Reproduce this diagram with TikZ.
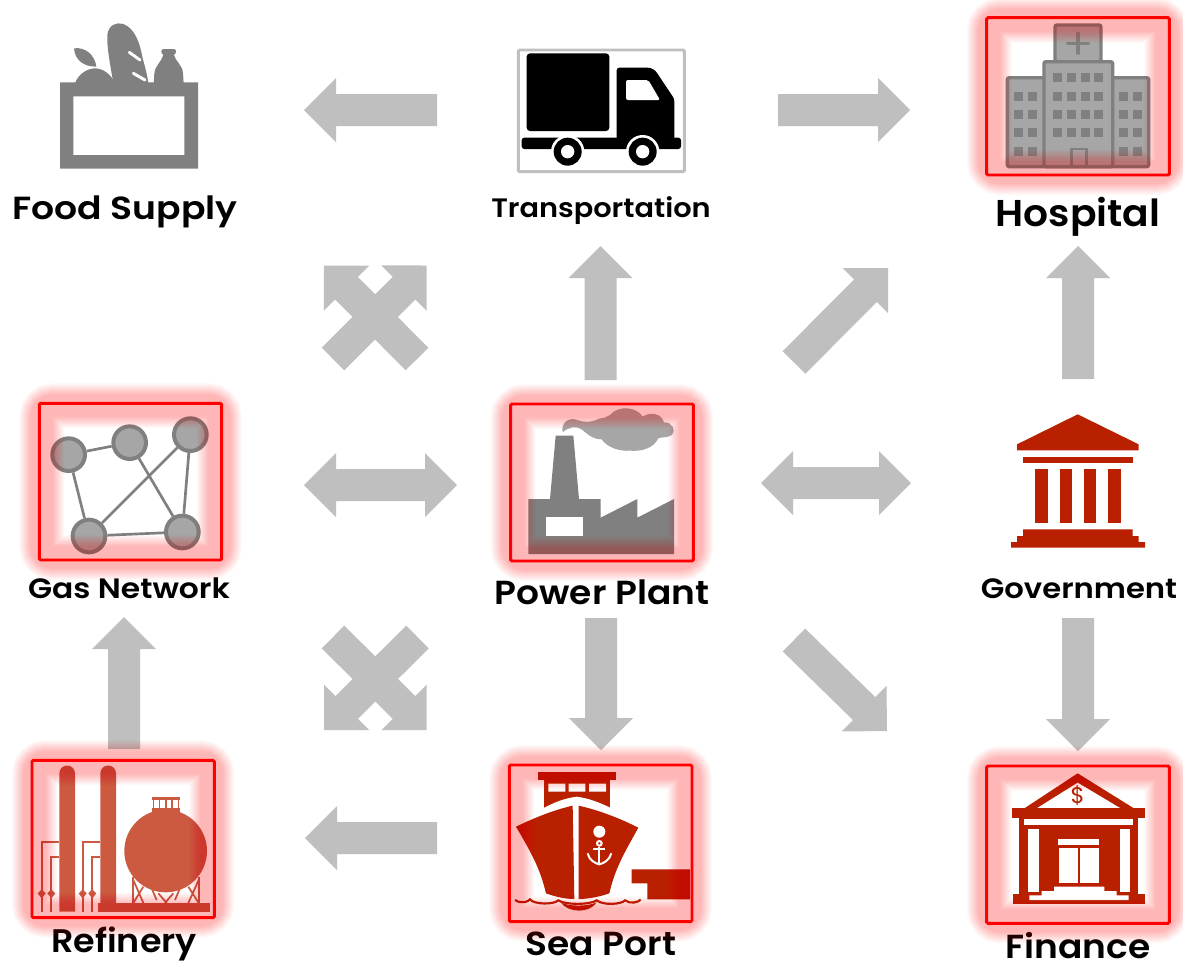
\documentclass[tikz,border=0pt]{standalone}
\usepackage{fontspec}
\setmainfont{Poppins}[BoldFont={Poppins SemiBold}]
\usetikzlibrary{calc}
\definecolor{arrowgray}{HTML}{BFBFBF}
\definecolor{icongray}{HTML}{808080}
\definecolor{lightgray2}{HTML}{A6A6A6}
\definecolor{brick}{HTML}{B82000}
\definecolor{refcol}{HTML}{CB5A40}
\tikzset{
  arrowbody/.style={fill=arrowgray,draw=none},
  zoomed/.style={x=.25pt,y=-.25pt},
  labeltext/.style={anchor=base,inner sep=0pt,font=\bfseries,text=black},
  redframe/.style={draw=red,line width=2.2pt,rounded corners=1pt},
  netnode/.style={circle,draw=icongray,fill=lightgray2,line width=3pt,minimum size=24.5pt,inner sep=0pt},
  netedge/.style={draw=icongray,line width=2pt},
}
\newcommand{\blockarrow}[2]{%
  \coordinate (hd) at ($(#2)!24pt!(#1)$);
  \fill[arrowbody] ($(#1)!12pt!90:(#2)$) -- ($(hd)!12pt!90:(#2)$) -- ($(hd)!24pt!90:(#2)$) -- (#2)
    -- ($(hd)!24pt!-90:(#2)$) -- ($(hd)!12pt!-90:(#2)$) -- ($(#1)!12pt!-90:(#2)$) -- cycle;}
\newcommand{\doublearrow}[2]{%
  \coordinate (hd) at ($(#2)!24pt!(#1)$);
  \coordinate (he) at ($(#1)!24pt!(#2)$);
  \fill[arrowbody] (#1) -- ($(he)!24pt!-90:(#2)$) -- ($(he)!12pt!-90:(#2)$) -- ($(hd)!12pt!90:(#1)$) -- ($(hd)!24pt!90:(#1)$) -- (#2)
    -- ($(hd)!24pt!-90:(#1)$) -- ($(hd)!12pt!-90:(#1)$) -- ($(he)!12pt!90:(#2)$) -- ($(he)!24pt!90:(#2)$) -- cycle;}
% glow: stack of translucent strokes slightly inside the frame, then the frame
\newcommand{\glowframe}[4]{%
  \foreach \w in {16,17,...,34}{
    \draw[red,opacity=.016,line width=\w pt,rounded corners=8pt] ({#1+2.5},{#2+2.5}) rectangle ({#3-2.5},{#4-2.5});
  }
  \draw[redframe] (#1,#2) rectangle (#3,#4);}
\newcommand{\lab}[2]{\scalebox{#1}[1]{#2}}
\begin{document}
\begin{tikzpicture}[x=.75pt,y=-.75pt]
\useasboundingbox (0,0) rectangle (1183,961);
\fill[white] (0,0) rectangle (1183,961);

% arrow end points
\coordinate (a1t) at (437,110); \coordinate (a1h) at (304,110);
\coordinate (a2t) at (778,110); \coordinate (a2h) at (910,110);
\coordinate (a3t) at (600.5,380); \coordinate (a3h) at (600.5,246);
\coordinate (a4t) at (794,362.5); \coordinate (a4h) at (888,268);
\coordinate (a5t) at (1078,379); \coordinate (a5h) at (1078,246);
\coordinate (d1a) at (304,485); \coordinate (d1b) at (457,485);
\coordinate (d2a) at (761,483); \coordinate (d2b) at (911,483);
\coordinate (a6t) at (601,618); \coordinate (a6h) at (601,750);
\coordinate (a7t) at (1078,618); \coordinate (a7h) at (1078,751);
\coordinate (a8t) at (794,640); \coordinate (a8h) at (887,731);
\coordinate (a9t) at (124,749); \coordinate (a9h) at (124,617);
\coordinate (a10t) at (437,838); \coordinate (a10h) at (305,838);
\coordinate (x1a) at (417,359); \coordinate (x1b) at (324,265.5);
\coordinate (x2a) at (333,359); \coordinate (x2b) at (426.7,265.5);
\coordinate (x3a) at (333,637); \coordinate (x3b) at (426.7,730);
\coordinate (x4a) at (417.5,637); \coordinate (x4b) at (324,730);
\blockarrow{a1t}{a1h}\blockarrow{a2t}{a2h}\blockarrow{a3t}{a3h}\blockarrow{a4t}{a4h}\blockarrow{a5t}{a5h}
\doublearrow{d1a}{d1b}\doublearrow{d2a}{d2b}
\blockarrow{a6t}{a6h}\blockarrow{a7t}{a7h}\blockarrow{a8t}{a8h}\blockarrow{a9t}{a9h}\blockarrow{a10t}{a10h}
\blockarrow{x1a}{x1b}\blockarrow{x2a}{x2b}\blockarrow{x3a}{x3b}\blockarrow{x4a}{x4b}

% labels
\node[labeltext,font=\bfseries\fontsize{24}{24}\selectfont] (lfood) at (125,219) {\lab{1.13}{Food Supply}};
\node[labeltext,font=\bfseries\fontsize{20}{20}\selectfont] (ltrans) at (601,217) {\lab{1.08}{Transportation}};
\node[labeltext,font=\bfseries\fontsize{28}{28}\selectfont] (lhosp) at (1078,226) {\lab{1.05}{Hospital}};
\node[labeltext,font=\bfseries\fontsize{21}{21}\selectfont] (lgas) at (129,598) {\lab{1.12}{Gas Network}};
\node[labeltext,font=\bfseries\fontsize{25}{25}\selectfont] (lpower) at (602,604) {\lab{1.08}{Power Plant}};
\node[labeltext,font=\bfseries\fontsize{21}{21}\selectfont] (lgov) at (1079,598) {\lab{1.095}{Government}};
\node[labeltext,font=\bfseries\fontsize{24.5}{24.5}\selectfont] (lref) at (124,952) {\lab{1.07}{Refinery}};
\node[labeltext,font=\bfseries\fontsize{25}{25}\selectfont] (lsea) at (601,955) {\lab{1.08}{Sea Port}};
\node[labeltext,font=\bfseries\fontsize{25}{25}\selectfont] (lfin) at (1078,958) {\lab{1.08}{Finance}};

% Food supply
\begin{scope}[zoomed]
\fill[icongray,even odd rule] (180,247) rectangle (594,506) (220,289) rectangle (553,465);
\fill[icongray] (225,250) .. controls (235,220) and (265,205) .. (285,205) .. controls (310,205) and (335,225) .. (345,250) -- cycle;
\fill[icongray] (222,145) .. controls (255,140) and (285,165) .. (289,200) .. controls (250,200) and (225,180) .. (222,145) -- cycle;
\fill[icongray] (340,250) .. controls (330,190) and (320,140) .. (322,105) .. controls (325,75) and (350,65) .. (370,72) .. controls (405,85) and (420,130) .. (428,175) .. controls (435,200) and (442,225) .. (445,250) -- cycle;
\draw[white,line width=2.2pt,line cap=round] (388,157) -- (420,180);
\draw[white,line width=2.2pt,line cap=round] (400,220) -- (435,240);
\fill[icongray] (461,250) -- (463,220) .. controls (466,195) and (485,185) .. (490,165) .. controls (482,160) and (482,148) .. (490,147) -- (522,147) .. controls (530,148) and (530,160) .. (522,165) .. controls (527,185) and (548,195) .. (549,220) -- (551,250) -- cycle;
\end{scope}

% Transportation
\begin{scope}[shift={(490,30)},zoomed]
\draw[arrowgray,line width=2.2pt,rounded corners=1pt] (85,60) rectangle (583,425);
\fill[black,rounded corners=2.5pt] (110,70) rectangle (358,303);
\fill[black,rounded corners=2pt] (95,323) rectangle (573,357);
\fill[black,rounded corners=2pt] (380,330) -- (380,113) -- (465,113) .. controls (485,113) and (495,120) .. (505,135) -- (545,195) .. controls (552,205) and (553,212) .. (553,225) -- (553,330) -- cycle;
\fill[white,rounded corners=1.5pt] (408,150) -- (408,210) -- (510,210) -- (475,150) -- cycle;
\foreach \cx in {233,458}{
  \fill[white] (\cx,365) circle (50);
  \fill[black] (\cx,365) circle (42);
  \fill[white] (\cx,365) circle (20);
}
\end{scope}

% Hospital
\begin{scope}[shift={(970,0)},zoomed]
\begin{scope}[draw=icongray,fill=lightgray2,line width=2.5pt,rounded corners=1.5pt]
\filldraw (255,75) rectangle (393,185);
\filldraw (112,233) rectangle (536,500);
\filldraw (222,185) rectangle (428,500);
\end{scope}
\draw[icongray,line width=2.4pt,line cap=round] (324,100) -- (324,160) (292,130) -- (356,130);
\foreach \xx in {249,290,332,373}\foreach \yy in {220,275,330,385}{\fill[icongray] (\xx,\yy) rectangle +(27,27);}
\foreach \xx in {133,174,447,488}\foreach \yy in {275,330,385,440}{\fill[icongray] (\xx,\yy) rectangle +(27,27);}
\draw[icongray,line width=2.2pt] (304,500) -- (304,447) -- (349,447) -- (349,500);
\end{scope}
\glowframe{986.7}{17.7}{1169.3}{175}

% Gas network
\begin{scope}[shift={(20,390)},zoomed]
\node[netnode] (n1) at (146,194) {};
\node[netnode] (n2) at (329,158) {};
\node[netnode] (n3) at (511,134) {};
\node[netnode] (n4) at (207,438) {};
\node[netnode] (n5) at (487,426) {};
\draw[netedge] (n1) -- (n2) (n1) -- (n4) (n2) -- (n5) (n3) -- (n4) (n3) -- (n5) (n4) -- (n5);
\end{scope}
\glowframe{39.3}{403.3}{221.7}{560}

% Power plant
\begin{scope}[shift={(490,390)},zoomed]
\fill[icongray] (115,327) -- (180,327) -- (197,137) -- (250,137) -- (267,327) -- (332,327) -- (332,383) -- (442,327) -- (442,383) -- (552,327) -- (552,492) -- (115,492) -- cycle;
\fill[white] (169,382) rectangle (278,437);
\fill[lightgray2] (218,127) .. controls (212,100) and (235,80) .. (262,90) .. controls (290,100) and (310,95) .. (330,85) .. controls (345,85) and (350,80) .. (360,75) .. controls (385,45) and (440,50) .. (458,80) .. controls (480,65) and (515,70) .. (522,97) .. controls (545,95) and (560,120) .. (545,135) .. controls (530,145) and (515,140) .. (505,145) .. controls (490,175) and (455,185) .. (420,182) .. controls (385,185) and (350,170) .. (335,148) .. controls (310,148) and (290,132) .. (275,118) .. controls (255,106) and (235,112) .. (218,127) -- cycle;
\end{scope}
\glowframe{510.7}{404}{693.3}{561}

% Government
\begin{scope}[shift={(970,400)},zoomed,fill=brick]
\fill (323,43) -- (506,133) -- (506,151) -- (141,151) -- (141,133) -- cycle;
\fill (159,170) rectangle (488,188);
\foreach \xx in {196,269,342,415}{\fill (\xx,206) rectangle +(37,164);}
\fill (159,388) -- (488,388) -- (488,408) -- (506,408) -- (506,426) -- (525,426) -- (525,443) -- (123,443) -- (123,426) -- (141,426) -- (141,408) -- (159,408) -- cycle;
\end{scope}

% Refinery
\begin{scope}[shift={(10,745)},zoomed,fill=refcol]
\fill (148,500) -- (148,85) arc (180:360:23.5) -- (195,500) -- cycle;
\fill (271,500) -- (271,85) arc (180:360:23.5) -- (318,500) -- cycle;
\fill (265,474) rectangle (600,500);
\fill (467,318) circle (124);
\fill (425,188) rectangle (510,210);
\fill (425,155) rectangle (510,164);
\foreach \xx in {428,446,465,484,503}{\fill (\xx,160) rectangle +(5,30);}
\begin{scope}[draw=refcol,line width=1.3pt]
\draw (370,395) -- (370,474) (566,395) -- (566,474);
\draw (370,405) -- (400,474) (400,425) -- (370,474);
\draw (566,405) -- (535,474) (535,425) -- (566,474);
\draw (425,430) -- (440,465) (510,430) -- (495,465);
\draw (445,445) -- (470,474) (490,445) -- (465,474);
\foreach \dx in {0,123}{
  \draw (148+\dx,290) -- (95+\dx,290) -- (95+\dx,500);
  \draw (148+\dx,335) -- (124+\dx,335) -- (124+\dx,500);
  \fill (95+\dx,433) -- (107+\dx,445) -- (95+\dx,460) -- (83+\dx,445) -- cycle;
  \fill (124+\dx,433) -- (136+\dx,445) -- (124+\dx,460) -- (112+\dx,445) -- cycle;
}
\end{scope}
\end{scope}
\glowframe{32}{760.3}{214.3}{917.7}

% Sea port
\begin{scope}[shift={(490,745)},zoomed,fill=brick]
\fill (145,82) rectangle (377,105);
\fill (163,105) rectangle (360,190);
\fill[white] (175,116) rectangle (226,140) (236,116) rectangle (286,140) (297,116) rectangle (348,140);
\fill[white] (150,195) .. controls (195,170) and (225,160) .. (260,155) .. controls (295,160) and (325,170) .. (375,195) -- cycle;
\fill (78,245) .. controls (130,220) and (190,195) .. (248,182) -- (253,462) .. controls (225,462) and (195,455) .. (168,445) .. controls (150,370) and (125,325) .. (78,245) -- cycle;
\fill (266,182) .. controls (325,195) and (390,220) .. (445,248) .. controls (405,320) and (375,370) .. (358,445) .. controls (330,455) and (295,462) .. (266,462) -- cycle;
\fill[white] (328,260) circle (18);
\draw[white,line width=1.5pt] (328,295) circle (7);
\draw[white,line width=1.5pt] (328,305) -- (328,355) (310,312) -- (346,312);
\draw[white,line width=1.5pt] (293,325) .. controls (297,345) and (315,355) .. (328,358) .. controls (341,355) and (359,345) .. (364,325);
\draw[brick,line width=1.6pt] (75,465) .. controls (95,478) and (115,470) .. (120,463) .. controls (130,478) and (190,480) .. (205,466) .. controls (225,480) and (300,480) .. (320,466) .. controls (340,482) and (395,478) .. (405,466) .. controls (420,478) and (445,472) .. (452,464);
\fill (212,472) .. controls (235,485) and (295,485) .. (320,472) .. controls (300,505) and (235,505) .. (212,472) -- cycle;
\fill (425,373) -- (600,373) -- (600,463) -- (472,463) -- (472,415) -- (425,415) -- cycle;
\end{scope}
\glowframe{509.3}{765}{692}{921.7}

% Finance
\begin{scope}[shift={(970,750)},zoomed,fill=brick]
\fill (323,70) -- (495,177) -- (160,177) -- cycle;
\fill[white] (323,98) -- (452,175) -- (200,175) -- cycle;
\node[text=brick,font=\fontsize{17}{17}\selectfont,inner sep=0pt] (dollar) at (323,138) {\$};
\fill (127,175) rectangle (525,204);
\fill (147,204) rectangle (505,436);
\fill[white] (162,206) rectangle (488,225);
\fill[white] (175,236) rectangle (206,425);
\fill[white] (449,236) rectangle (480,425);
\fill[white] (265,268) rectangle (388,284);
\fill[white] (267,293) rectangle (323,398);
\fill[white] (329,293) rectangle (388,398);
\fill (130,433) rectangle (525,462);
\fill[white] (252,410) -- (403,410) -- (403,423) -- (440,423) -- (440,436) -- (476,436) -- (476,450) -- (178,450) -- (178,436) -- (215,436) -- (215,423) -- (252,423) -- cycle;
\end{scope}
\glowframe{986.7}{766}{1169.3}{923.3}
\end{tikzpicture}
\end{document}
